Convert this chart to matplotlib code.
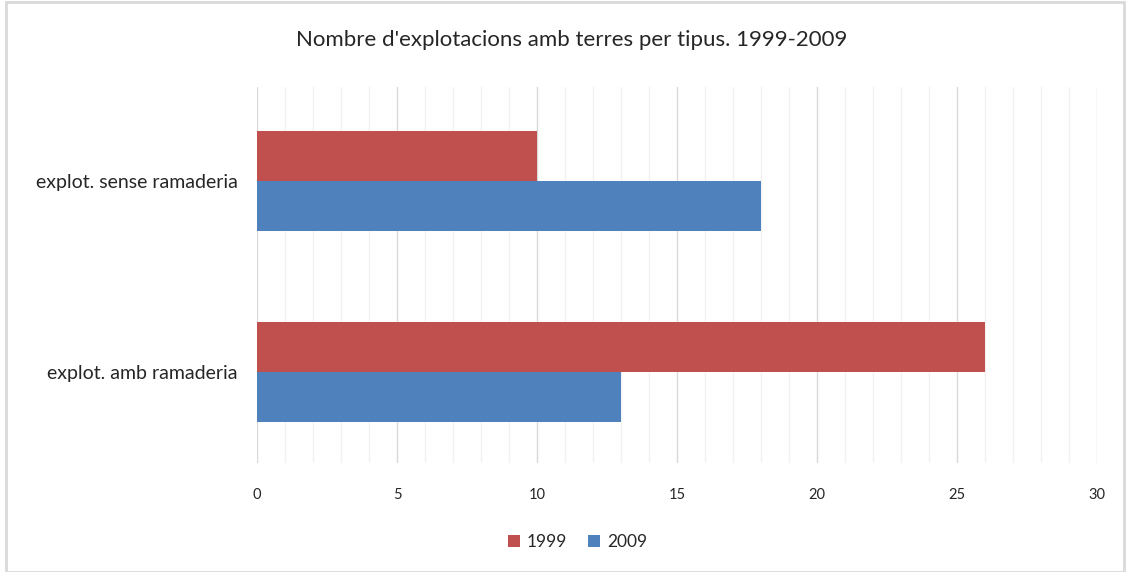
import matplotlib.pyplot as plt
import numpy as np
from matplotlib.patches import Rectangle

plt.rcParams['font.family'] = ['Lato', 'DejaVu Sans']

categories = ['explot. amb ramaderia', 'explot. sense ramaderia']
vals_1999 = [26, 10]
vals_2009 = [13, 18]
series_labels = ['1999', '2009']
red = '#C0504D'
blue = '#4F81BD'

fig = plt.figure(figsize=[11.26, 5.72], dpi=100)
ax = fig.add_axes([0.2282, 0.1906, 0.746, 0.657])

y = np.arange(len(categories))
h = 0.26
ax.barh(y + h/2, vals_1999, height=h, color=red, label=series_labels[0], zorder=3)
ax.barh(y - h/2, vals_2009, height=h, color=blue, label=series_labels[1], zorder=3)

ax.set_xlim(0, 30)
ax.set_ylim(-0.475, 1.49)
ax.set_xticks(np.arange(0, 31, 5))
ax.set_xticks(np.arange(0, 31, 1), minor=True)
ax.grid(axis='x', which='major', color='#d9d9d9', lw=1.0, zorder=0)
ax.grid(axis='x', which='minor', color='#f2f2f2', lw=1.0, zorder=0)
ax.set_yticks(y)
ax.set_yticklabels(categories, fontsize=14, color='#262626')
ax.tick_params(axis='both', which='both', length=0)
ax.tick_params(axis='x', labelsize=10.5, labelcolor='#262626', pad=18)
ax.tick_params(axis='y', pad=14)
for s in ax.spines.values():
    s.set_visible(False)

fig.text(0.508, 0.93, "Nombre d'explotacions amb terres per tipus. 1999-2009",
         ha='center', va='center', fontsize=16, color='#262626')

fig.legend(loc='center', bbox_to_anchor=(0.513, 0.052), ncol=2, frameon=False,
           fontsize=12.5, handlelength=0.7, handleheight=0.7, handletextpad=0.4,
           columnspacing=1.2, labelcolor='#262626')

fig.patches.append(Rectangle((0.005, 0.0), 0.993, 0.997, transform=fig.transFigure,
                             fill=False, edgecolor='#d9d9d9', lw=2))

fig.savefig('out.png', dpi=100)
